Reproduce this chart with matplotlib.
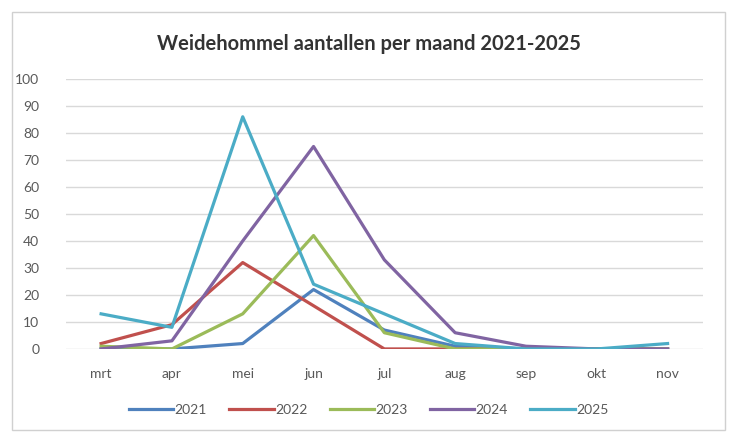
import matplotlib.pyplot as plt
from matplotlib.patches import Rectangle

maanden = ['mrt', 'apr', 'mei', 'jun', 'jul', 'aug', 'sep', 'okt', 'nov']
jaren = ['2021', '2022', '2023', '2024', '2025']
v2021 = [0, 0, 2, 22, 7, 1, 0, 0, 0]
v2022 = [2, 9, 32, 16, 0, 0, 0, 0, 0]
v2023 = [1, 0, 13, 42, 6, 0, 0, 0, 0]
v2024 = [0, 3, 40, 75, 33, 6, 1, 0, 0]
v2025 = [13, 8, 86, 24, 13, 2, 0, 0, 2]
kleuren = ['#4F81BD', '#C0504D', '#9BBB59', '#8064A2', '#4BACC6']

plt.rcParams['font.family'] = ['Lato', 'DejaVu Sans']

fig = plt.figure(figsize=(7.3, 4.34), dpi=100)
fig.patches.append(Rectangle((12 / 730, 4 / 434), 713 / 730, 418 / 434,
                             transform=fig.transFigure, fill=False,
                             edgecolor='#d0d0d0', linewidth=1))
ax = fig.add_axes([0.090, 0.196, 0.873, 0.622])

x = range(len(maanden))
for naam, vals, kl in zip(jaren, [v2021, v2022, v2023, v2024, v2025], kleuren):
    ax.plot(x, vals, color=kl, linewidth=2.3, label=naam)

ax.set_xlim(-0.5, len(maanden) - 0.5)
ax.set_ylim(0, 100)
ax.set_yticks(range(0, 101, 10))
ax.set_xticks(list(x))
ax.set_xticklabels(maanden)
ax.grid(axis='y', color='#d9d9d9', linewidth=1)
ax.set_axisbelow(True)
for s in ax.spines.values():
    s.set_visible(False)
ax.tick_params(axis='both', length=0, colors='#595959', labelsize=10)
ax.tick_params(axis='y', pad=19)
ax.tick_params(axis='x', pad=14)

fig.text(0.505, 0.898, 'Weidehommel aantallen per maand 2021-2025',
         ha='center', va='center', fontsize=14.5, fontweight='bold', color='#333333')
fig.legend(loc='center', bbox_to_anchor=(0.505, 0.055), ncol=5, frameon=False,
           fontsize=10, handlelength=3.2, handletextpad=0.1, columnspacing=1.6,
           labelcolor='#595959')

fig.savefig('out.png', dpi=100)
